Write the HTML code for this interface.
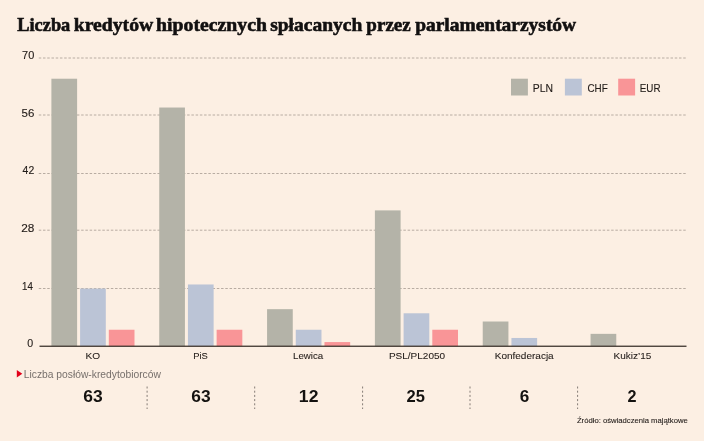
<!DOCTYPE html>
<html lang="pl"><head><meta charset="utf-8"><title>Liczba kredytów hipotecznych spłacanych przez parlamentarzystów</title>
<style>
html,body{margin:0;padding:0;background:#fcefe3;}
body{width:704px;height:441px;overflow:hidden;}
svg{display:block;will-change:transform;}
text{font-family:"Liberation Sans",Arial,sans-serif;}
.title{font-family:"Liberation Serif","Times New Roman",serif;font-weight:700;font-size:17.8px;fill:#121010;stroke:#121010;stroke-width:0.55px;}
.ax{font-size:10px;fill:#221c19;stroke:#221c19;stroke-width:0.12px;}
.cat{font-size:9.8px;fill:#221c19;stroke:#221c19;stroke-width:0.08px;}
.leg{font-size:10.6px;fill:#221c19;stroke:#221c19;stroke-width:0.12px;}
.num{font-size:15.8px;font-weight:700;fill:#141210;}
.sub{font-size:10px;fill:#77706c;}
.src{font-size:8px;fill:#27211e;stroke:#27211e;stroke-width:0.1px;}

</style></head><body>
<svg width="704" height="441" viewBox="0 0 704 441">
<rect width="704" height="441" fill="#fcefe3"/>
<line x1="38.75" y1="58.00" x2="686.5" y2="58.00" stroke="#b8aca2" stroke-width="1" stroke-dasharray="2.5 1.74"/>
<line x1="38.75" y1="115.00" x2="686.5" y2="115.00" stroke="#b8aca2" stroke-width="1" stroke-dasharray="2.5 1.74"/>
<line x1="38.75" y1="173.50" x2="686.5" y2="173.50" stroke="#b8aca2" stroke-width="1" stroke-dasharray="2.5 1.74"/>
<line x1="38.75" y1="230.20" x2="686.5" y2="230.20" stroke="#b8aca2" stroke-width="1" stroke-dasharray="2.5 1.74"/>
<line x1="38.75" y1="288.50" x2="686.5" y2="288.50" stroke="#b8aca2" stroke-width="1" stroke-dasharray="2.5 1.74"/>
<text x="22.07" y="59.15" class="ax" textLength="12.20" lengthAdjust="spacingAndGlyphs">70</text>
<text x="21.55" y="116.76" class="ax" textLength="12.78" lengthAdjust="spacingAndGlyphs">56</text>
<text x="22.64" y="174.37" class="ax" textLength="11.60" lengthAdjust="spacingAndGlyphs">42</text>
<text x="21.17" y="231.98" class="ax" textLength="13.17" lengthAdjust="spacingAndGlyphs">28</text>
<text x="22.04" y="289.59" class="ax" textLength="10.82" lengthAdjust="spacingAndGlyphs">14</text>
<text x="27.30" y="347.20" class="ax" textLength="5.91" lengthAdjust="spacingAndGlyphs">0</text>
<rect x="51.40" y="78.72" width="25.7" height="267.48" fill="#b4b3a8"/>
<rect x="80.10" y="288.59" width="25.7" height="57.61" fill="#bbc4d6"/>
<rect x="108.80" y="329.74" width="25.7" height="16.46" fill="#f99597"/>
<text x="85.42" y="359.00" class="cat" textLength="14.60" lengthAdjust="spacingAndGlyphs">KO</text>
<text x="83.32" y="402.40" class="num" textLength="19.43" lengthAdjust="spacingAndGlyphs">63</text>
<rect x="159.23" y="107.53" width="25.7" height="238.67" fill="#b4b3a8"/>
<rect x="187.93" y="284.47" width="25.7" height="61.73" fill="#bbc4d6"/>
<rect x="216.63" y="329.74" width="25.7" height="16.46" fill="#f99597"/>
<text x="193.27" y="359.00" class="cat" textLength="14.61" lengthAdjust="spacingAndGlyphs">PiS</text>
<text x="191.28" y="402.40" class="num" textLength="19.32" lengthAdjust="spacingAndGlyphs">63</text>
<line x1="147.10" y1="386.5" x2="147.10" y2="409" stroke="#857c76" stroke-width="1" stroke-dasharray="2 2.2"/>
<rect x="267.07" y="309.16" width="25.7" height="37.04" fill="#b4b3a8"/>
<rect x="295.77" y="329.74" width="25.7" height="16.46" fill="#bbc4d6"/>
<rect x="324.47" y="342.08" width="25.7" height="4.12" fill="#f99597"/>
<text x="293.03" y="359.00" class="cat" textLength="30.23" lengthAdjust="spacingAndGlyphs">Lewica</text>
<text x="298.86" y="402.40" class="num" textLength="19.55" lengthAdjust="spacingAndGlyphs">12</text>
<line x1="254.70" y1="386.5" x2="254.70" y2="409" stroke="#857c76" stroke-width="1" stroke-dasharray="2 2.2"/>
<rect x="374.90" y="210.40" width="25.7" height="135.80" fill="#b4b3a8"/>
<rect x="403.60" y="313.28" width="25.7" height="32.92" fill="#bbc4d6"/>
<rect x="432.30" y="329.74" width="25.7" height="16.46" fill="#f99597"/>
<text x="388.94" y="359.00" class="cat" textLength="56.18" lengthAdjust="spacingAndGlyphs">PSL/PL2050</text>
<text x="406.63" y="402.40" class="num" textLength="18.39" lengthAdjust="spacingAndGlyphs">25</text>
<line x1="362.60" y1="386.5" x2="362.60" y2="409" stroke="#857c76" stroke-width="1" stroke-dasharray="2 2.2"/>
<rect x="482.73" y="321.51" width="25.7" height="24.69" fill="#b4b3a8"/>
<rect x="511.43" y="337.97" width="25.7" height="8.23" fill="#bbc4d6"/>
<text x="494.73" y="359.00" class="cat" textLength="58.97" lengthAdjust="spacingAndGlyphs">Konfederacja</text>
<text x="519.65" y="402.40" class="num" textLength="9.52" lengthAdjust="spacingAndGlyphs">6</text>
<line x1="470.00" y1="386.5" x2="470.00" y2="409" stroke="#857c76" stroke-width="1" stroke-dasharray="2 2.2"/>
<rect x="590.57" y="333.85" width="25.7" height="12.35" fill="#b4b3a8"/>
<text x="613.56" y="359.00" class="cat" textLength="37.84" lengthAdjust="spacingAndGlyphs">Kukiz’15</text>
<text x="627.52" y="402.40" class="num" textLength="9.02" lengthAdjust="spacingAndGlyphs">2</text>
<line x1="577.60" y1="386.5" x2="577.60" y2="409" stroke="#857c76" stroke-width="1" stroke-dasharray="2 2.2"/>
<rect x="39.5" y="345.6" width="647.0" height="1.3" fill="#3f362f"/>
<rect x="511.0" y="78.7" width="16.9" height="16.8" fill="#b4b3a8"/>
<text x="532.71" y="91.80" class="leg" textLength="20.25" lengthAdjust="spacingAndGlyphs">PLN</text>
<rect x="564.9" y="78.7" width="16.9" height="16.8" fill="#bbc4d6"/>
<text x="587.44" y="91.80" class="leg" textLength="20.26" lengthAdjust="spacingAndGlyphs">CHF</text>
<rect x="618.2" y="78.7" width="16.9" height="16.8" fill="#f99597"/>
<text x="639.77" y="91.80" class="leg" textLength="20.76" lengthAdjust="spacingAndGlyphs">EUR</text>
<path d="M16.8 370 L22.3 373.7 L16.8 377.4 Z" fill="#e2001a"/>
<text x="23.78" y="377.90" class="sub" textLength="137.12" lengthAdjust="spacingAndGlyphs">Liczba posłów-kredytobiorców</text>
<text x="576.93" y="422.80" class="src" textLength="110.86" lengthAdjust="spacingAndGlyphs">Źródło: oświadczenia majątkowe</text>
<text x="17.25" y="31.00" class="title" textLength="53.06" lengthAdjust="spacingAndGlyphs">Liczba</text>
<text x="73.79" y="31.00" class="title" textLength="79.43" lengthAdjust="spacingAndGlyphs">kredytów</text>
<text x="156.14" y="31.00" class="title" textLength="110.79" lengthAdjust="spacingAndGlyphs">hipotecznych</text>
<text x="270.17" y="31.00" class="title" textLength="92.09" lengthAdjust="spacingAndGlyphs">spłacanych</text>
<text x="366.39" y="31.00" class="title" textLength="44.36" lengthAdjust="spacingAndGlyphs">przez</text>
<text x="415.19" y="31.00" class="title" textLength="160.94" lengthAdjust="spacingAndGlyphs">parlamentarzystów</text>
</svg>
</body></html>
